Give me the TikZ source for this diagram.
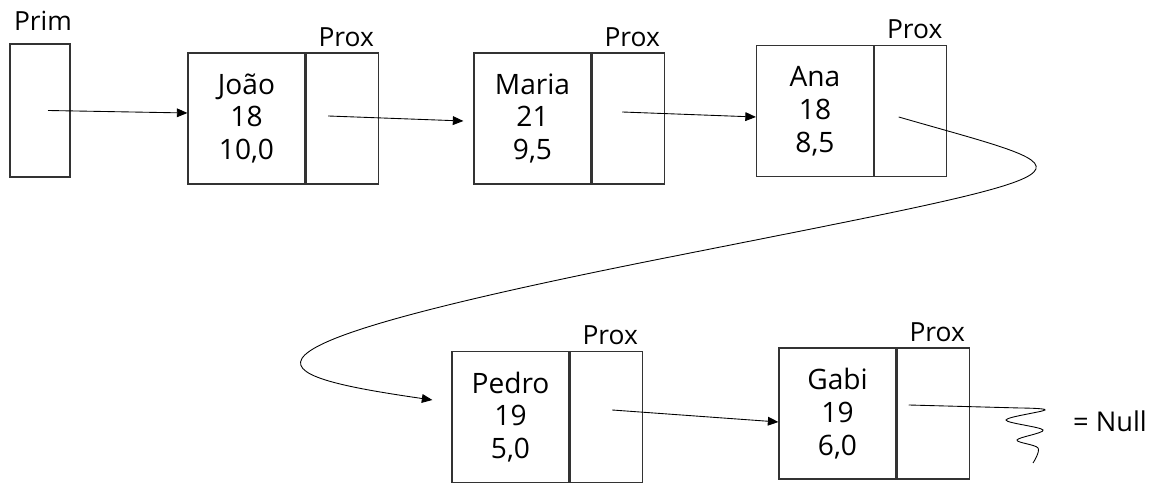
\documentclass[tikz,border=0pt]{standalone}
\usepackage{fontspec}
\setmainfont{Open Sans}
\usetikzlibrary{arrows.meta,positioning}

\begin{document}
\begin{tikzpicture}[scale=1.0,
  line width=0.7pt,
  dado/.style={draw=black!80, minimum width=2.34cm, minimum height=2.62cm,
    inner sep=0pt, align=center, font=\fontsize{16}{18.7}\selectfont},
  prox/.style={draw=black!80, minimum width=1.44cm, minimum height=2.62cm,
    inner sep=0pt, right=0pt of #1},
  rotulo/.style={font=\fontsize{15}{17}\selectfont, inner sep=1pt},
  seta/.style={-{Triangle[length=6pt,width=5pt]}, line width=0.5pt}]
\useasboundingbox (0,0) rectangle (23.16,-9.74);

% ponteiro inicial
\node[draw=black!80, minimum width=1.2cm, minimum height=2.66cm] (prim) at (0.8,-2.21) {};
\node[rotulo, above=6pt of prim, xshift=0.06cm] (primlbl) {Prim};

% registros da lista
\node[dado] (joao) at (4.93,-2.37) {João\\18\\10,0};
\node[prox=joao] (joaoP) {};
\node[dado] (maria) at (10.65,-2.37) {Maria\\21\\9,5};
\node[prox=maria] (mariaP) {};
\node[dado] (ana) at (16.30,-2.22) {Ana\\18\\8,5};
\node[prox=ana] (anaP) {};
\node[dado] (pedro) at (10.21,-8.34) {Pedro\\19\\5,0};
\node[prox=pedro] (pedroP) {};
\node[dado] (gabi) at (16.75,-8.27) {Gabi\\19\\6,0};
\node[prox=gabi] (gabiP) {};

\node[rotulo, above=2pt of joaoP, xshift=0.08cm] (joaoLbl) {Prox};
\node[rotulo, above=2pt of mariaP, xshift=0.08cm] (mariaLbl) {Prox};
\node[rotulo, above=2pt of anaP, xshift=0.08cm] (anaLbl) {Prox};
\node[rotulo, above=2pt of pedroP, xshift=0.08cm] (pedroLbl) {Prox};
\node[rotulo, above=2pt of gabiP, xshift=0.08cm] (gabiLbl) {Prox};

% encadeamento
\draw[seta] ([xshift=0.16cm]prim.center) -- ([yshift=0.11cm]joao.west);
\draw[seta] ([xshift=-0.28cm,yshift=0.05cm]joaoP.center) -- ([xshift=-0.2cm,yshift=-0.05cm]maria.west);
\draw[seta] ([xshift=-0.12cm,yshift=0.13cm]mariaP.center) -- ([yshift=-0.12cm]ana.west);
\draw[seta] ([xshift=-0.24cm,yshift=-0.12cm]anaP.center)
  .. controls (22.0,-3.5) and (22.48,-3.34) .. (13.4,-5.14)
  .. controls (3.8,-7.04) and (5.2,-7.5) .. ([xshift=-0.38cm,yshift=0.34cm]pedro.west);
\draw[seta] ([xshift=0.12cm,yshift=0.14cm]pedroP.center) -- ([yshift=-0.17cm]gabi.west);

% fim da lista
\draw[line width=0.5pt] ([xshift=-0.49cm,yshift=0.17cm]gabiP.center) -- (20.4,-8.16)
  -- plot[smooth, tension=0.55] coordinates {(20.4,-8.16) (20.9,-8.2) (20.12,-8.4)
  (20.86,-8.6) (20.34,-8.8) (20.76,-8.96) (20.66,-9.26)};
\node[rotulo, font=\fontsize{15.5}{17}\selectfont] (null) at (22.2,-8.42) {= Null};
\end{tikzpicture}
\end{document}
